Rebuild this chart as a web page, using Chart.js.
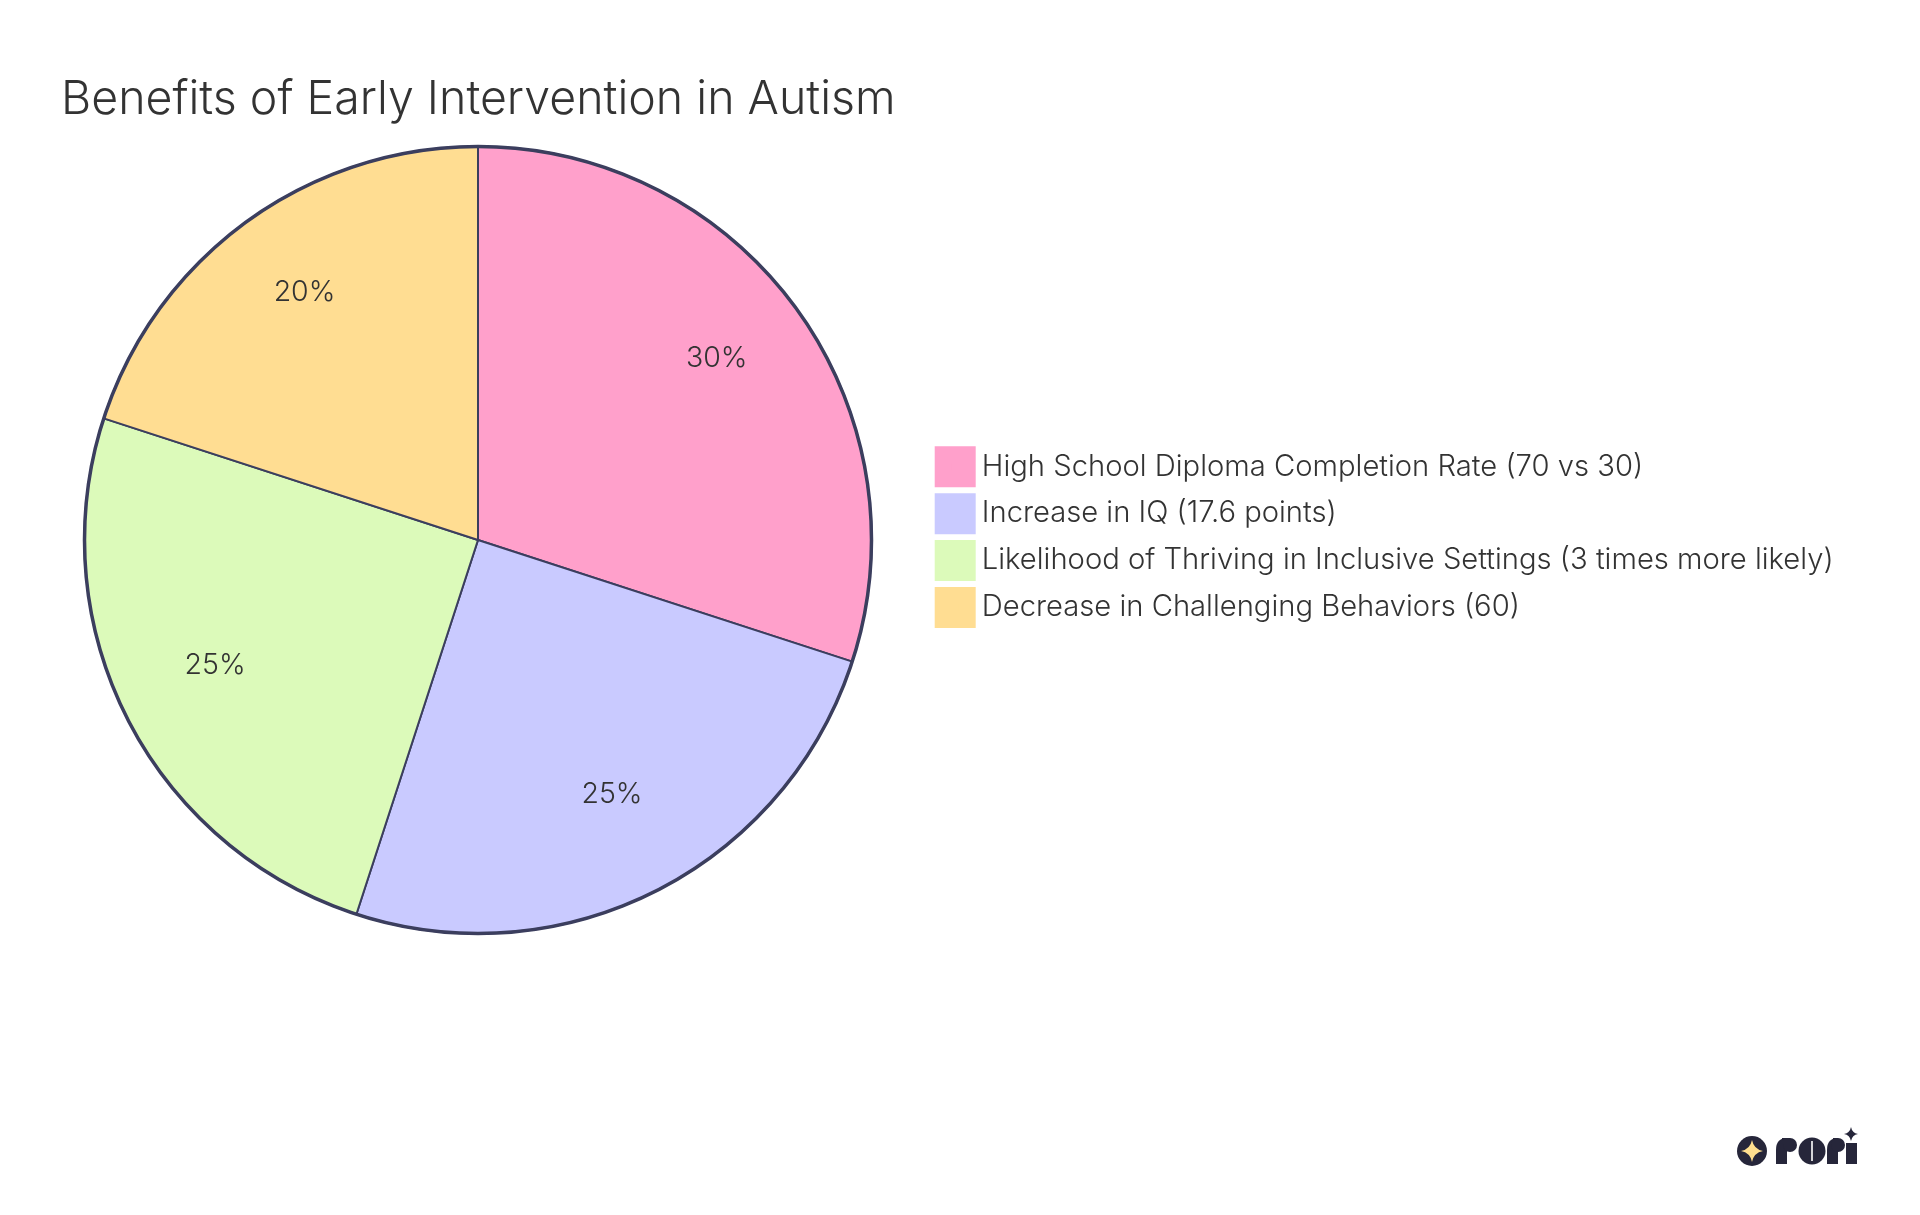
<!DOCTYPE html>
<html><head><meta charset="utf-8">
<style>html,body{margin:0;padding:0;background:#fff}canvas{display:block}</style>
<script src="https://cdn.jsdelivr.net/npm/chart.js@4"></script></head>
<body><div style="width:1920px;height:1215px"><canvas id="c"></canvas></div>
<script>
const chartTitle = 'Benefits of Early Intervention in Autism';
const categories = ['High School Diploma Completion Rate (70 vs 30)','Increase in IQ (17.6 points)','Likelihood of Thriving in Inclusive Settings (3 times more likely)','Decrease in Challenging Behaviors (60)'];
const values = [30,25,25,20];
const colors = ['#ffa0cb','#c9caff','#dcfaba','#ffdd92'];
const strokeColor = '#3b3e5e';
const textColor = '#333333';
const fontFamily = 'Inter, "Noto Sans", sans-serif';

function star(ctx,x,y,s){
  const k=s*0.16;
  ctx.beginPath();
  ctx.moveTo(x,y-s);
  ctx.quadraticCurveTo(x+k,y-k,x+s,y);
  ctx.quadraticCurveTo(x+k,y+k,x,y+s);
  ctx.quadraticCurveTo(x-k,y+k,x-s,y);
  ctx.quadraticCurveTo(x-k,y-k,x,y-s);
  ctx.fill();
}
function letterR(ctx,x,w){
  const top=1138,bot=1164;
  ctx.beginPath();
  ctx.moveTo(x,bot); ctx.lineTo(x,1150);
  ctx.quadraticCurveTo(x,top,x+11,top);
  ctx.lineTo(x+11,bot); ctx.closePath(); ctx.fill();
  ctx.beginPath(); ctx.arc(x+w-7,1145,7,0,Math.PI*2); ctx.fill();
  ctx.fillRect(x+6,top,w-13,6);
}
const placement = {
  id:'placement',
  afterLayout(chart){
    const a = chart.chartArea;
    a.left=78; a.right=878; a.top=140; a.bottom=940; a.width=800; a.height=800;
    const t = chart.titleBlock;
    t.left=61; t.right=61+t.width; t.top=72;
    const l = chart.legend;
    l.left=925.5; l.top=434.5; l.adjustHitBoxes();
  },
  afterDatasetsDraw(chart){
    const ctx=chart.ctx, arcs=chart.getDatasetMeta(0).data, total=values.reduce((s,v)=>s+v,0);
    const cx=arcs[0].x, cy=arcs[0].y, r=arcs[0].outerRadius;
    ctx.save();
    ctx.strokeStyle=strokeColor; ctx.lineWidth=3.5;
    ctx.beginPath(); ctx.arc(cx,cy,r,0,Math.PI*2); ctx.stroke();
    ctx.fillStyle=textColor; ctx.font='300 28.5px '+fontFamily; ctx.textAlign='center'; ctx.textBaseline='alphabetic';
    arcs.forEach((arc,i)=>{
      const mid=(arc.startAngle+arc.endAngle)/2;
      ctx.fillText(Math.round(values[i]/total*100)+'%',cx+Math.cos(mid)*r*0.75,cy+Math.sin(mid)*r*0.75);
    });
    // logo mark
    const dark='#26263a';
    ctx.fillStyle=dark;
    ctx.beginPath(); ctx.arc(1752,1151,15,0,Math.PI*2); ctx.fill();
    ctx.fillStyle='#ffdf8f'; star(ctx,1752,1151,11);
    ctx.fillStyle=dark;
    letterR(ctx,1776,21);
    ctx.beginPath(); ctx.ellipse(1812,1151,13.5,13.5,0,0,Math.PI*2); ctx.fill();
    letterR(ctx,1827,18);
    ctx.fillRect(1846,1143,11,21);
    star(ctx,1851,1134,7);
    ctx.fillStyle='#ffffff';
    ctx.fillRect(1811.2,1141,1.6,20);
    ctx.restore();
  }
};

new Chart(document.getElementById('c'),{
  type:'pie',
  data:{labels:categories,datasets:[{data:values,backgroundColor:colors,borderColor:strokeColor,borderWidth:2,radius:393.5,borderAlign:'center'}]},
  options:{
    responsive:true,maintainAspectRatio:false,animation:false,
    plugins:{
      title:{display:true,text:chartTitle,align:'start',color:textColor,font:{family:fontFamily,size:46.5,weight:'300'},padding:0},
      legend:{position:'right',align:'start',labels:{boxWidth:24,boxHeight:24,padding:17.7,color:textColor,font:{family:fontFamily,size:29.2,weight:'300'},
        generateLabels(chart){return categories.map((t,i)=>({text:t,fillStyle:colors[i],strokeStyle:colors[i],lineWidth:17,index:i,fontColor:textColor}));}}},
      tooltip:{enabled:false}
    }
  },
  plugins:[placement]
});
</script></body></html>
